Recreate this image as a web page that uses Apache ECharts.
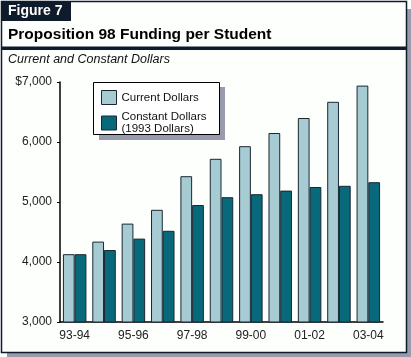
<!DOCTYPE html>
<html>
<head>
<meta charset="utf-8">
<style>
html,body{margin:0;padding:0;background:#ffffff;}
#chart{width:411px;height:357px;}
</style>
<script src="https://cdn.jsdelivr.net/npm/echarts@6/dist/echarts.min.js"></script>
</head>
<body>
<div id="chart"></div>
<script>
const categories = ['93-94','94-95','95-96','96-97','97-98','98-99','99-00','00-01','01-02','02-03','03-04'];
const currentDollars = [4130, 4340, 4640, 4870, 5430, 5720, 5930, 6150, 6400, 6670, 6940];
const constantDollars = [4130, 4200, 4390, 4520, 4950, 5080, 5130, 5190, 5250, 5270, 5330];
const yTicks = [3000, 4000, 5000, 6000, 7000];

const chart = echarts.init(document.getElementById('chart'), null, {renderer:'canvas'});
const FONT = 'Liberation Sans, Arial, Helvetica, sans-serif';
const dark = '#0d1b2a';
chart.setOption({
  backgroundColor: '#ffffff',
  animation: false,
  textStyle: {fontFamily: FONT},
  graphic: [
    {type:'rect', z:-20, shape:{x:7, y:9, width:404, height:348}, style:{fill:'#9a9aad'}},
    {type:'rect', z:-19, shape:{x:1.5, y:1.5, width:405, height:351}, style:{fill:'#fdfffc', stroke:dark, lineWidth:1.5}},
    {type:'rect', z:-18, shape:{x:2, y:2, width:69, height:19}, style:{fill:dark}},
    {type:'text', z:-17, left:8, top:4, style:{text:'Figure 7', fill:'#ffffff', font:'bold 14px ' + FONT}},
    {type:'text', z:-17, left:8, top:27, style:{text:'Proposition 98 Funding per Student', fill:'#000000', font:'bold 15.5px ' + FONT}},
    {type:'rect', z:-18, shape:{x:2, y:46.5, width:405, height:3.5}, style:{fill:dark}},
    {type:'text', z:-17, left:8, top:53, style:{text:'Current and Constant Dollars', fill:'#111111', font:'italic 12.5px ' + FONT}},
    {type:'rect', z:3, shape:{x:99, y:87, width:126, height:53}, style:{fill:'#9a9aad'}},
    {type:'rect', z:4, shape:{x:93.5, y:82.5, width:126, height:52}, style:{fill:'#ffffff', stroke:'#000000', lineWidth:1}}
  ],
  legend: {
    z: 10,
    left: 96, top: 85,
    orient: 'vertical',
    icon: 'rect',
    itemWidth: 15, itemHeight: 14,
    itemGap: 6,
    textStyle: {fontSize: 11.5, color:'#111', fontFamily: FONT, lineHeight: 12},
    data: [
      {name:'Current Dollars', itemStyle:{borderColor:'#1a2633', borderWidth:1}},
      {name:'Constant Dollars\n(1993 Dollars)', itemStyle:{borderColor:'#1a2633', borderWidth:1}}
    ]
  },
  grid: {left:60, right:28, top:82, bottom:35, containLabel:false},
  xAxis: {
    type:'category',
    data: categories,
    axisLine:{lineStyle:{color:'#000', width:1.5}},
    axisTick:{show:false},
    axisLabel:{interval:1, color:'#222', fontSize:12, margin:8, fontFamily: FONT}
  },
  yAxis: {
    type:'value',
    min: 3000, max: 7000, interval: 1000,
    axisLine:{show:true, lineStyle:{color:'#000', width:1.5}},
    axisTick:{show:true, length:3, inside:false, lineStyle:{color:'#000'}},
    splitLine:{show:false},
    axisLabel:{color:'#222', fontSize:12, margin:8, fontFamily: FONT,
      formatter: v => (v === yTicks[yTicks.length-1] ? '$' : '') + v.toLocaleString('en-US')}
  },
  series: [
    {name:'Current Dollars', type:'bar', data: currentDollars, barGap:'0%', barCategoryGap:'20%',
     itemStyle:{color:'#a7cbd3', borderColor:'#1a2633', borderWidth:1}},
    {name:'Constant Dollars\n(1993 Dollars)', type:'bar', data: constantDollars,
     itemStyle:{color:'#08697a', borderColor:'#1a2633', borderWidth:1}}
  ]
});
</script>
</body>
</html>
